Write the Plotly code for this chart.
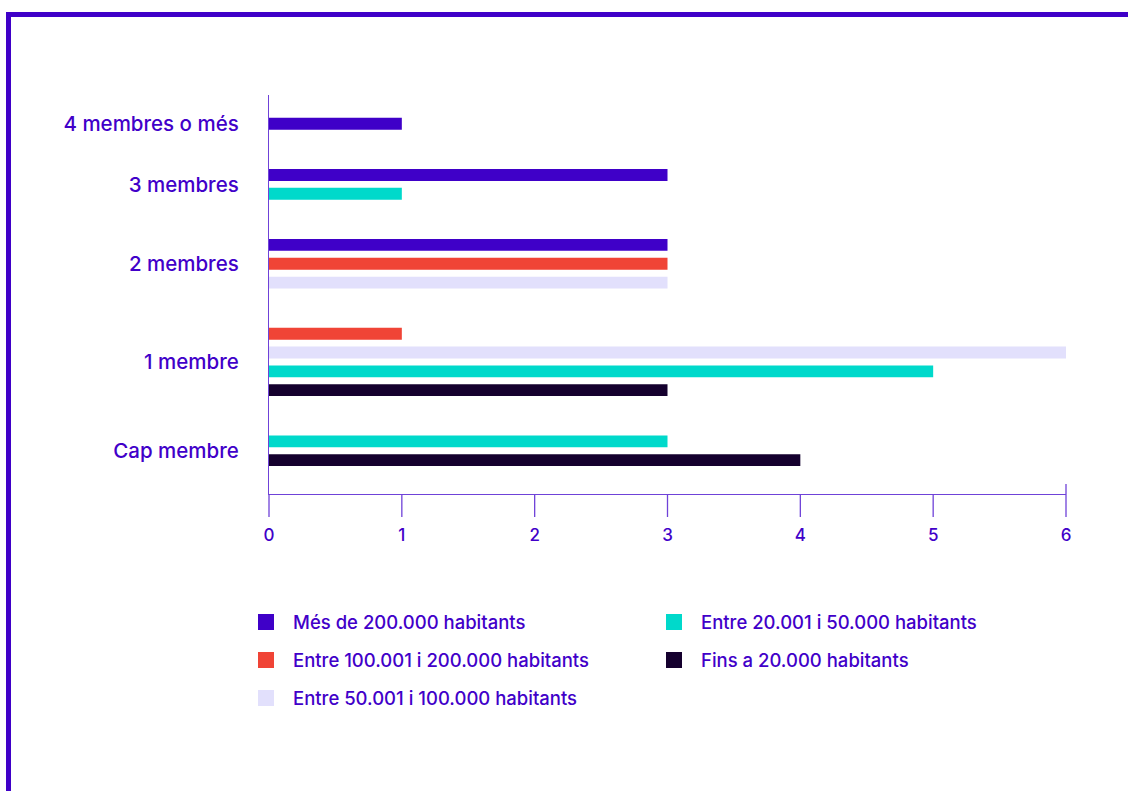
import plotly.graph_objects as go

# Household members (top to bottom as drawn)
categories = ["4 membres o més", "3 membres", "2 membres", "1 membre", "Cap membre"]

series_names = [
    "Més de 200.000 habitants",
    "Entre 100.001 i 200.000 habitants",
    "Entre 50.001 i 100.000 habitants",
    "Entre 20.001 i 50.000 habitants",
    "Fins a 20.000 habitants",
]
series_colors = ["#3f00c8", "#f04436", "#e2e0fc", "#00d9cb", "#15002e"]

# Counts per category (None = no bar in that group)
mes_200k = [1, 3, 3, None, None]
entre_100k_200k = [None, None, 3, 1, None]
entre_50k_100k = [None, None, 3, 6, None]
entre_20k_50k = [None, 1, None, 5, 3]
fins_20k = [None, None, None, 3, 4]

series_values = [mes_200k, entre_100k_200k, entre_50k_100k, entre_20k_50k, fins_20k]

x_ticks = [0, 1, 2, 3, 4, 5, 6]

TEXT = "#4100c9"
AXIS = "#6f42d8"
FONT = "Inter"

# Pack bars: only present values take a slot, groups separated by a wider gap
SLOT = 1.0
GROUP_GAP = 2.72
positions = [[None] * len(categories) for _ in series_names]
centers = []
p = 0.0
for ci in range(len(categories)):
    group = []
    for si, vals in enumerate(series_values):
        if vals[ci] is not None:
            if group:
                p += SLOT
            positions[si][ci] = p
            group.append(p)
    centers.append(sum(group) / len(group))
    p += GROUP_GAP
last_pos = p - GROUP_GAP

fig = go.Figure()
for si, name in enumerate(series_names):
    xs = [v for v in series_values[si] if v is not None]
    ys = [positions[si][ci] for ci, v in enumerate(series_values[si]) if v is not None]
    fig.add_trace(go.Bar(
        x=xs, y=ys, orientation="h", name=name,
        marker=dict(color=series_colors[si], line=dict(width=0)),
        width=0.63, showlegend=False,
    ))

# Plot area in pixels
W, H = 1128, 791
L, R, T, B = 269, 62, 95, 297
pw, ph = W - L - R, H - T - B
x_lo, x_hi = x_ticks[0], x_ticks[-1]


def px_x(x):
    return (x - L) / pw


def px_y(y):
    return (H - B - y) / ph


def val_x(v):
    # data value -> paper fraction along the x axis
    return (v - x_lo) / (x_hi - x_lo)


shapes = []
# Frame around the chart (top and left edges)
shapes.append(dict(type="rect", xref="paper", yref="paper",
                   x0=px_x(6), x1=px_x(W + 5), y0=px_y(12), y1=px_y(17),
                   fillcolor="#3f00c8", line=dict(width=0), layer="above"))
shapes.append(dict(type="rect", xref="paper", yref="paper",
                   x0=px_x(6), x1=px_x(11), y0=px_y(12), y1=px_y(H + 5),
                   fillcolor="#3f00c8", line=dict(width=0), layer="above"))
# Tick marks below the axis and an end marker above the last tick
for t in x_ticks:
    shapes.append(dict(type="line", xref="paper", yref="paper",
                       x0=val_x(t), x1=val_x(t), y0=0, y1=px_y(517),
                       line=dict(color=AXIS, width=1.3)))
shapes.append(dict(type="line", xref="paper", yref="paper",
                   x0=val_x(x_hi), x1=val_x(x_hi), y0=0, y1=px_y(484),
                   line=dict(color=AXIS, width=1.3)))

# Legend in two columns
annotations = []
legend_cols = [[0, 1, 2], [3, 4]]
col_x = [258, 666]
row_y = [622, 660, 698]
for c, idxs in enumerate(legend_cols):
    for r, si in enumerate(idxs):
        cy = row_y[r]
        shapes.append(dict(type="rect", xref="paper", yref="paper",
                           x0=px_x(col_x[c]), x1=px_x(col_x[c] + 16),
                           y0=px_y(cy - 8), y1=px_y(cy + 8),
                           fillcolor=series_colors[si], line=dict(width=0)))
        annotations.append(dict(xref="paper", yref="paper",
                                x=px_x(col_x[c] + 33), y=px_y(cy),
                                xanchor="left", yanchor="middle",
                                text=series_names[si], showarrow=False,
                                font=dict(family=FONT, size=18.5, weight=500, color=TEXT)))

fig.update_layout(
    width=W, height=H,
    margin=dict(l=L, r=R, t=T, b=B, pad=0),
    paper_bgcolor="white", plot_bgcolor="white",
    barmode="overlay",
    shapes=shapes, annotations=annotations,
    font=dict(family=FONT, color=TEXT),
)
fig.update_xaxes(
    range=[x_lo, x_hi], tickvals=x_ticks,
    showgrid=False, zeroline=False,
    showline=True, linecolor=AXIS, linewidth=1.3,
    ticks="",
    tickfont=dict(family=FONT, size=17, weight=500, color=TEXT),
    ticklabelstandoff=25,
)
fig.update_yaxes(
    range=[last_pos + 1.8, -1.53], autorange=False,
    tickvals=centers, ticktext=categories,
    showgrid=False, zeroline=False,
    showline=True, linecolor=AXIS, linewidth=1.3,
    ticks="", tickfont=dict(family=FONT, size=20.5, weight=500, color=TEXT),
    ticklabelstandoff=25,
)

fig.write_html("out.html")
